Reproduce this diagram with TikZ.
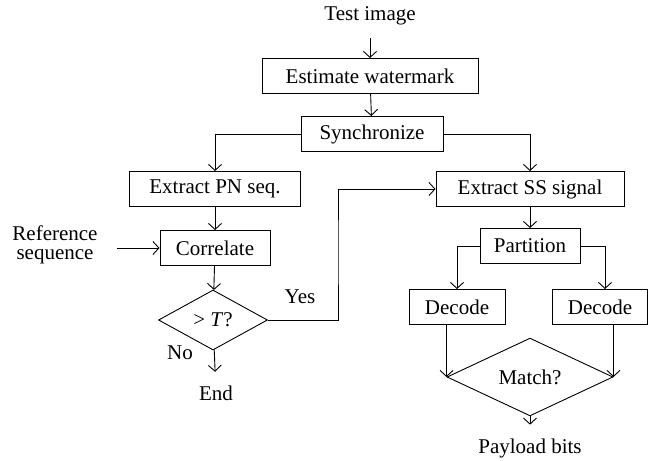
\documentclass[tikz,border=0pt]{standalone}
\usepackage{fontspec}
\setmainfont{Liberation Serif}
\usetikzlibrary{arrows.meta,shapes.geometric}

\tikzset{
  block/.style={draw,rectangle,minimum height=35pt,inner sep=0pt},
  decision/.style={draw,diamond,inner sep=0pt},
  every picture/.style={line width=0.9pt},
}

\begin{document}
\begin{tikzpicture}[x=1pt,y=-1pt,>={Straight Barb[length=6pt,width=13pt]},
  font=\fontsize{21}{19}\selectfont]
\useasboundingbox (0,0) rectangle (652,460);
%%the upper chain
\node (test) at (370,16) {Test image};
\node[block,minimum width=216pt] (est) at (370,76) {Estimate watermark};
\node[block,minimum width=142pt] (sync) at (372,134) {Synchronize};
%%left branch
\node[block,minimum width=171pt] (pn) at (215,189) {Extract PN seq.};
\node[block,minimum width=110pt] (corr) at (215,248) {Correlate};
\node[align=center,inner sep=1pt] (ref) at (55,245) {Reference\\sequence};
\node[decision,minimum width=109pt,minimum height=60pt] (thr) at (213,320) {> \textit{T}?};
\node (end) at (216,393) {End};
\node (yes) at (300,297) {Yes};
\node (no) at (180,353) {No};
\coordinate (bend) at (338,250);
%%right branch
\node[block,minimum width=188pt] (ss) at (530,189) {Extract SS signal};
\node[block,minimum width=100pt] (part) at (530,246) {Partition};
\node[block,minimum width=96pt] (dec1) at (457,307) {Decode};
\node[block,minimum width=95pt] (dec2) at (600,307) {Decode};
\node[decision,minimum width=166pt,minimum height=60pt] (match) at (530,377) {Match?};
\node (pay) at (530,448) {Payload bits};
%%now the connectors
\draw[->,shorten <=9pt] (test) -- (est);
\draw[->] (est) -- (sync);
\draw[->] (sync) -| (pn);
\draw[->] (sync) -| (ss);
\draw[->] (pn) -- (corr);
\draw[->,shorten <=18pt] (ref.east |- corr) -- (corr);
\draw[->] (corr) -- (thr);
\draw[->] (thr) -| (bend) |- (ss);
\draw[->,shorten >=10pt] (thr) -- (end);
\draw[->] (ss) -- (part);
\draw[->] (part) -| (dec1);
\draw[->] (part) -| ([xshift=5pt]dec2.north);
\draw[->] (dec1.south -| match.west) -- (match.west);
\draw[->] (dec2.south -| match.east) -- (match.east);
\draw[->,shorten >=10pt] (match) -- (pay);
\end{tikzpicture}
\end{document}
